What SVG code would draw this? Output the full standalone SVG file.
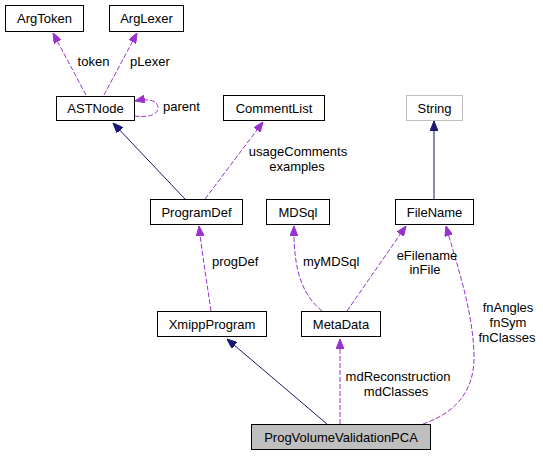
<svg xmlns="http://www.w3.org/2000/svg" width="543" height="456" viewBox="0 0 543 456">
<style>
text{font-family:"Liberation Sans",Arial,sans-serif;font-size:13px;fill:#000}
.n{text-anchor:middle}
.box{fill:#fff;stroke:#000;stroke-width:1}
.dep{fill:none;stroke:#9a32cd;stroke-width:1;stroke-dasharray:5,2}
.inh{fill:none;stroke:#191970;stroke-width:1}
.lbl{text-anchor:middle}
</style>
<defs>
<marker id="ap" viewBox="0 0 10 8" refX="10" refY="4" markerWidth="10" markerHeight="8" markerUnits="userSpaceOnUse" orient="auto"><path d="M0,0L10,4L0,8Z" fill="#9a32cd" stroke="#9a32cd"/></marker>
<marker id="an" viewBox="0 0 10 8" refX="10" refY="4" markerWidth="10" markerHeight="8" markerUnits="userSpaceOnUse" orient="auto"><path d="M0,0L10,4L0,8Z" fill="#191970" stroke="#191970"/></marker>
</defs>
<rect width="543" height="456" fill="#fff"/>
<g id="connectors">
<path class="dep" d="M86,95L53,33" marker-end="url(#ap)"/>
<path class="dep" d="M104,95L137,33" marker-end="url(#ap)"/>
<path class="dep" d="M134,116C150,118 158,114 158,108C158,101 150,98 135,101" marker-end="url(#ap)"/>
<path class="inh" d="M185,199L113,123" marker-end="url(#an)"/>
<path class="dep" d="M205,199L263,122" marker-end="url(#ap)"/>
<path class="inh" d="M434,199L434,121" marker-end="url(#an)"/>
<path class="dep" d="M211,311C208,290 203,260 199,226" marker-end="url(#ap)"/>
<path class="dep" d="M322,311C305,297 293,275 294,226" marker-end="url(#ap)"/>
<path class="dep" d="M347,311L406,226" marker-end="url(#ap)"/>
<path class="dep" d="M423,424C452,414 475,394 474,355C473,310 456,262 446,226" marker-end="url(#ap)"/>
<path class="inh" d="M327,424L227,339" marker-end="url(#an)"/>
<path class="dep" d="M340,424L340,339" marker-end="url(#ap)"/>
</g>
<g id="labels">
<text class="lbl" x="93.5" y="66">token</text>
<text x="130" y="66">pLexer</text>
<text x="163" y="111">parent</text>
<text class="lbl" x="298" y="156">usageComments</text>
<text class="lbl" x="297" y="171">examples</text>
<text x="212" y="266">progDef</text>
<text x="303" y="266">myMDSql</text>
<text class="lbl" x="427" y="260">eFilename</text>
<text class="lbl" x="425" y="274">inFile</text>
<text class="lbl" x="508" y="312">fnAngles</text>
<text class="lbl" x="508" y="327">fnSym</text>
<text class="lbl" x="507" y="342">fnClasses</text>
<text class="lbl" x="398" y="381">mdReconstruction</text>
<text class="lbl" x="396" y="396">mdClasses</text>
</g>
<g id="ArgToken"><rect class="box" x="5.5" y="5.5" width="78" height="26"/><text class="n" x="44.5" y="23">ArgToken</text></g>
<g id="ArgLexer"><rect class="box" x="109.5" y="5.5" width="74" height="26"/><text class="n" x="146.5" y="23">ArgLexer</text></g>
<g id="ASTNode"><rect class="box" x="56.5" y="96.5" width="78" height="24"/><text class="n" x="95.5" y="113">ASTNode</text></g>
<g id="CommentList"><rect class="box" x="223.5" y="95.5" width="101" height="25"/><text class="n" x="274" y="112.5">CommentList</text></g>
<g id="String"><rect x="406.5" y="95.5" width="56" height="25" fill="#fff" stroke="#bfbfbf"/><text class="n" x="434.5" y="112.5">String</text></g>
<g id="ProgramDef"><rect class="box" x="150.5" y="199.5" width="92" height="25"/><text class="n" x="196.5" y="216.5">ProgramDef</text></g>
<g id="MDSql"><rect class="box" x="266.5" y="199.5" width="63" height="25"/><text class="n" x="298" y="216.5">MDSql</text></g>
<g id="FileName"><rect class="box" x="395.5" y="199.5" width="78" height="25"/><text class="n" x="434.5" y="216.5">FileName</text></g>
<g id="XmippProgram"><rect class="box" x="157.5" y="311.5" width="109" height="25"/><text class="n" x="212" y="328.5">XmippProgram</text></g>
<g id="MetaData"><rect class="box" x="301.5" y="311.5" width="79" height="25"/><text class="n" x="341" y="328.5">MetaData</text></g>
<g id="ProgVolumeValidationPCA"><rect x="251.5" y="424.5" width="179" height="25" fill="#bfbfbf" stroke="#000"/><text class="n" x="341" y="441.5">ProgVolumeValidationPCA</text></g>
</svg>
